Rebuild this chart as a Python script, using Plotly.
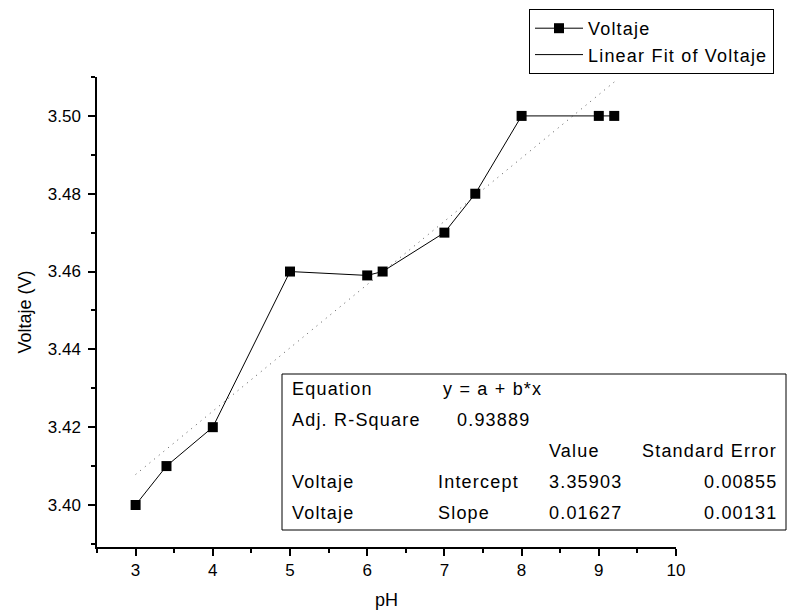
import plotly.graph_objects as go

# ---- data ----
ph = [3, 3.4, 4, 5, 6, 6.2, 7, 7.4, 8, 9, 9.2]
voltaje = [3.40, 3.41, 3.42, 3.46, 3.459, 3.46, 3.47, 3.48, 3.50, 3.50, 3.50]
fit_intercept = 3.35903
fit_slope = 0.01627
x_ticks = [3, 4, 5, 6, 7, 8, 9, 10]
y_ticks = [3.40, 3.42, 3.44, 3.46, 3.48, 3.50]

table_rows = [
    ["Equation", "y = a + b*x", "", ""],
    ["Adj. R-Square", "0.93889", "", ""],
    ["", "", "Value", "Standard Error"],
    ["Voltaje", "Intercept", "3.35903", "0.00855"],
    ["Voltaje", "Slope", "0.01627", "0.00131"],
]

# ---- layout geometry (pixels) ----
W, H = 790, 615
L, R, T, B = 97, 114, 77, 68
PW, PH = W - L - R, H - T - B


def px(x):
    return (x - L) / PW


def py(y):
    return (H - B - y) / PH


def wide(txt, sp=1.2):
    return f"<span style='letter-spacing:{sp}px'>{txt}</span>"


FONT = "Arial, Liberation Sans, Helvetica, sans-serif"

fit_x = [min(ph), max(ph)]
fit_y = [fit_intercept + fit_slope * v for v in fit_x]

fig = go.Figure()
fig.add_trace(go.Scatter(
    x=fit_x, y=fit_y, mode="lines", showlegend=False,
    line=dict(color="#555555", width=1, dash="1px,5px"),
    hoverinfo="skip",
))
fig.add_trace(go.Scatter(
    x=ph, y=voltaje, mode="lines+markers", name=wide("Voltaje"),
    line=dict(color="black", width=1),
    marker=dict(symbol="square", size=10, color="black"),
))
fig.add_trace(go.Scatter(
    x=[None], y=[None], mode="lines", name=wide("Linear Fit of Voltaje"),
    line=dict(color="black", width=1),
))

axis_common = dict(
    showline=True, linecolor="black", linewidth=1.5,
    ticks="outside", ticklen=7, tickwidth=1.5, tickcolor="black",
    showgrid=False, zeroline=False, mirror=False, automargin=False,
    tickfont=dict(family=FONT, size=17, color="black"),
    title_font=dict(family=FONT, size=18, color="black"),
)

fig.update_layout(
    width=W, height=H,
    margin=dict(l=L, r=R, t=T, b=B, autoexpand=False),
    paper_bgcolor="white", plot_bgcolor="white",
    font=dict(family=FONT, color="black"),
    xaxis=dict(
        range=[2.5, 10], tickvals=x_ticks,
        title=dict(text="pH", standoff=14),
        minor=dict(dtick=0.5, tick0=2.5, ticks="outside", ticklen=4,
                   tickcolor="black", tickwidth=1.5),
        **axis_common,
    ),
    yaxis=dict(
        range=[3.3892, 3.51], tickvals=y_ticks, tickformat=".2f",
        title=dict(text="Voltaje (V)", standoff=11),
        ticklabelstandoff=4,
        minor=dict(dtick=0.01, tick0=3.39, ticks="outside", ticklen=4,
                   tickcolor="black", tickwidth=1.5),
        **axis_common,
    ),
    legend=dict(
        x=px(529), y=py(9), xanchor="left", yanchor="top",
        bordercolor="black", borderwidth=1, bgcolor="white",
        font=dict(family=FONT, size=18, color="black"),
        tracegroupgap=0, itemwidth=48,
    ),
    showlegend=True,
)

# ---- fit results table ----
box = dict(x0=282, x1=786, y0=374, y1=530)
fig.add_shape(type="rect", xref="paper", yref="paper",
              x0=px(box["x0"]), x1=px(box["x1"]),
              y0=py(box["y1"]), y1=py(box["y0"]),
              line=dict(color="black", width=1), fillcolor="white",
              layer="above")

row_y = [389, 420, 451, 482, 513]
col_x = [290, 441, 547, 779]
col_x_row = {1: [290, 455, 547, 779], 3: [290, 436, 547, 779], 4: [290, 436, 547, 779]}
for ri, row in enumerate(table_rows):
    cx = col_x_row.get(ri, col_x)
    for ci, txt in enumerate(row):
        if not txt:
            continue
        anchor = "right" if ci == 3 else "left"
        fig.add_annotation(
            x=px(cx[ci]), y=py(row_y[ri]), xref="paper", yref="paper",
            text=wide(txt), showarrow=False, xanchor=anchor, yanchor="middle",
            font=dict(family=FONT, size=18, color="black"),
        )

fig.write_html(
    "out.html",
    config={"displayModeBar": False},
    post_script="document.body.style.margin='0';document.body.style.padding='0';",
)
